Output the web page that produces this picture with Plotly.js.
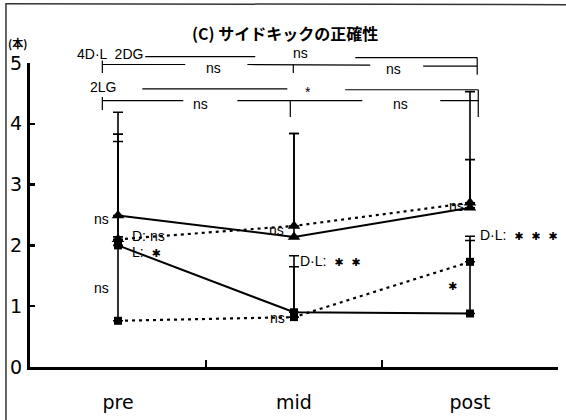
<!DOCTYPE html>
<html>
<head>
<meta charset="utf-8">
<script src="https://cdn.plot.ly/plotly-3.0.1.min.js"></script>
<style>
  html, body { margin: 0; padding: 0; background: #fff; }
  #chart { width: 566px; height: 420px; }
</style>
</head>
<body>
<div id="chart"></div>
<script>
// Stages of measurement
const stages = ['pre', 'mid', 'post'];

// D condition (triangles): solid = 4D·L / 2DG, dotted = 2LG
const dSolid = [2.49, 2.14, 2.62];
const dSolidSD = [1.70, 1.70, 0.79];
const dDotted = [2.10, 2.32, 2.70];
const dDottedSD = [1.73, 1.52, 1.83];

// L condition (squares)
const lSolid = [2.00, 0.90, 0.88];
const lSolidSD = [1.71, 0.93, 1.20];
const lDotted = [0.76, 0.82, 1.73];
const lDottedSD = [1.38, 0.83, 0.42];

const yTicks = [0, 1, 2, 3, 4, 5];

const INK = '#000';
const zeros = stages.map(() => 0);

function series(y, sd, symbol, size, dash) {
  return {
    type: 'scatter',
    mode: 'lines+markers',
    x: stages,
    y: y,
    line: { color: INK, width: dash ? 2.2 : 2, dash: dash || 'solid' },
    marker: { symbol: symbol, size: size, color: INK },
    error_y: {
      type: 'data', symmetric: false, array: sd, arrayminus: zeros,
      color: INK, thickness: 1.6, width: 5
    },
    cliponaxis: false,
    showlegend: false,
    hoverinfo: 'skip'
  };
}

const traces = [
  series(lDotted, lDottedSD, 'square', 8, '3px,4px'),
  series(lSolid, lSolidSD, 'square', 8),
  series(dDotted, dDottedSD, 'triangle-up', 11, '3px,4px'),
  series(dSolid, dSolidSD, 'triangle-up', 11)
];

// significance notes beside the points (x in stage index units)
const noteFont = { family: 'Liberation Sans, Arial, sans-serif', size: 14, color: INK };
const STAR = '<span style="font-family:DejaVu Sans;font-size:11px">✱</span>';
function stars(n) { return Array(n).fill(STAR).join('  '); }
function note(text, x, y, anchor, font) {
  return { text: text, x: x, y: y, xref: 'x', yref: 'y', xanchor: anchor,
           yanchor: 'middle', showarrow: false, font: font || noteFont };
}
const notes = [
  note('ns', -0.04, 2.43, 'right'),
  note('ns', -0.04, 1.30, 'right'),
  note('D: ns', 0.07, 2.16, 'left'),
  note('L:  ' + stars(1), 0.07, 1.89, 'left'),
  note('ns', 0.955, 2.26, 'right'),
  note('ns', 0.96, 0.80, 'right'),
  note('D·L:  ' + stars(2), 1.02, 1.74, 'left'),
  note('ns', 1.975, 2.65, 'right'),
  note('D·L:  ' + stars(3), 2.045, 2.17, 'left'),
  note(stars(1), 1.90, 1.32, 'center')
];

// comparison brackets above the plot (x: stage index, y: paper)
function seg(x0, y0, x1, y1) {
  return { type: 'line', xref: 'x', yref: 'paper', x0: x0, y0: y0, x1: x1, y1: y1,
           line: { color: INK, width: 1.2 } };
}
const brackets = [
  // row 1: 4D·L 2DG
  seg(0.155, 1.021, 0.780, 1.021), seg(1.348, 1.018, 2.041, 1.018),
  seg(2.041, 1.018, 2.041, 0.961),
  seg(-0.089, 0.995, 0.382, 0.995), seg(0.735, 0.995, 1.433, 0.993),
  seg(1.734, 0.990, 2.041, 0.990),
  seg(-0.089, 1.008, -0.089, 0.967), seg(0.996, 0.995, 0.996, 0.967),
  // row 2: 2LG
  seg(0.138, 0.915, 0.962, 0.915), seg(1.291, 0.912, 2.047, 0.912),
  seg(2.047, 0.912, 2.047, 0.822),
  seg(-0.089, 0.876, 0.371, 0.876), seg(0.678, 0.876, 1.388, 0.876),
  seg(1.831, 0.876, 2.047, 0.876),
  seg(-0.089, 0.888, -0.089, 0.845), seg(0.979, 0.876, 0.979, 0.822)
];
function topNote(text, x, y, anchor) {
  return { text: text, x: x, y: y, xref: 'x', yref: 'paper', xanchor: anchor || 'center',
           yanchor: 'middle', showarrow: false, font: noteFont };
}
const topNotes = [
  topNote('4D·L  2DG', -0.245, 1.030, 'left'),
  topNote('ns', 1.036, 1.034),
  topNote('ns', 0.541, 0.982),
  topNote('ns', 1.564, 0.980),
  topNote('2LG', -0.17, 0.922, 'left'),
  topNote('*', 1.081, 0.905),
  topNote('ns', 0.468, 0.866),
  topNote('ns', 1.604, 0.866)
];

// outer frame (left and top edges)
const frame = [
  { type: 'line', xref: 'paper', yref: 'paper', x0: -0.0455, y0: 1.197, x1: -0.0455, y1: -0.2,
    line: { color: '#333', width: 1.5 } },
  { type: 'line', xref: 'paper', yref: 'paper', x0: -0.0455, y0: 1.195, x1: 1.02, y1: 1.192,
    line: { color: '#333', width: 1.5 } }
];

const axisFont = { family: 'DejaVu Sans, sans-serif', stretch: 'condensed', size: 19, color: INK };

const layout = {
  width: 566, height: 420,
  margin: { l: 30, r: 8, t: 63, b: 53 },
  paper_bgcolor: '#fff', plot_bgcolor: '#fff',
  title: {
    text: '(C) サイドキックの正確性',
    font: { family: 'Noto Sans CJK JP, sans-serif', size: 16, color: INK, weight: 'bold' },
    xref: 'paper', x: 0.483, xanchor: 'center',
    yref: 'container', y: 0.917, yanchor: 'middle'
  },
  xaxis: {
    type: 'category', categoryorder: 'array', categoryarray: stages,
    range: [-0.5, 2.5], tickson: 'boundaries',
    ticks: 'inside', ticklen: 7, tickwidth: 2, tickcolor: INK,
    showline: true, linecolor: INK, linewidth: 3,
    showgrid: false, zeroline: false,
    tickfont: axisFont, ticklabelstandoff: 16,
    fixedrange: true
  },
  yaxis: {
    range: [0, 5], tickvals: yTicks,
    ticks: 'inside', ticklen: 5, tickwidth: 2.5, tickcolor: INK,
    showline: true, linecolor: INK, linewidth: 3,
    showgrid: false, zeroline: false,
    tickfont: axisFont, ticklabelstandoff: 1,
    fixedrange: true
  },
  shapes: frame.concat(brackets),
  annotations: notes.concat(topNotes, [
    { text: '(本)', xref: 'paper', yref: 'paper', x: -0.024, y: 1.066, xanchor: 'center', yanchor: 'middle',
      showarrow: false, font: { family: 'Noto Sans CJK JP, sans-serif', size: 11, color: INK, weight: 'bold' } }
  ])
};

Plotly.newPlot('chart', traces, layout, { staticPlot: true, displayModeBar: false });
</script>
</body>
</html>
